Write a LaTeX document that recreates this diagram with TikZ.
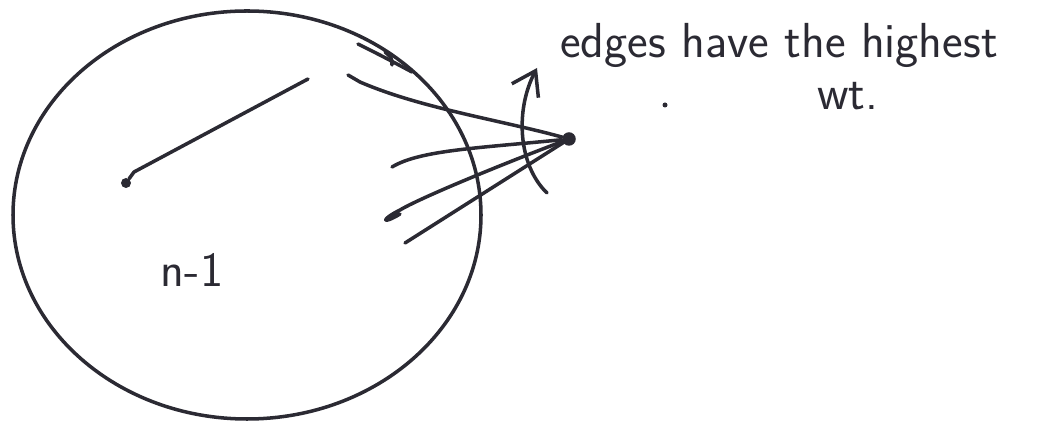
\documentclass[tikz,border=0pt]{standalone}
\usepackage{tikz}
\usetikzlibrary{arrows.meta, positioning}
\definecolor{ink}{HTML}{2B2A33}
\tikzset{
  pen/.style ={draw=ink, line width=2pt, line cap=round, line join=round},
  vtx/.style ={circle, fill=ink, inner sep=0pt, minimum size=0.27cm},
  dot/.style ={circle, fill=ink, inner sep=0pt, minimum size=0.2cm},
  hand/.style={font=\sffamily\fontsize{28}{33}\selectfont, text=ink, inner sep=0pt},
  fl/.style  ={pen, -{Straight Barb[length=4.5mm, width=6mm, line width=2pt]}},
}
\begin{document}
\begin{tikzpicture}[x={(0.02cm,0)}, y={(0,-0.02cm)}]
  \useasboundingbox (0,0) rectangle (1047,421);
  % the n-1 set
  \draw[pen] (247,215) ellipse [x radius=234, y radius=204];
  \draw[pen] (358,44) .. controls (382,56) .. (412,72);
  \draw[pen] (385,52) .. controls (392,58) .. (392,65);
  \node[hand] (set) at (192,270) {n-1};
  % inner edge
  \node[dot] (xm) at (126,183) {};
  \coordinate (xe) at (308,79);
  \draw[pen] (xm) -- (134,172) -- (xe);
  % outside vertex and its edges
  \node[vtx] (v) at (569,139) {};
  \coordinate (e1) at (348,75);
  \coordinate (e2) at (392,167);
  \coordinate (e3) at (400,214);
  \coordinate (e4) at (405,243);
  \draw[pen] (v) .. controls (500,120) and (420,108) .. (360,82) -- (e1);
  \draw[pen] (v) .. controls (480,148) and (420,150) .. (e2);
  \draw[pen] (v) .. controls (500,165) and (420,198) .. (400,210)
                 .. controls (380,220) and (382,225) .. (e3);
  \draw[pen] (v) -- (e4);
  % sweep arrow over the edges
  \coordinate (ab) at (547,193);
  \coordinate (at) at (537,68);
  \draw[fl] (ab) .. controls (518,165) and (515,110) .. (at);
  % note
  \node[hand, anchor=base] (note) at (779,58) {edges have the highest};
  \node[hand, anchor=base] (wt) at (848,110) {wt.};
  \node[dot, minimum size=0.1cm] (spec) at (665,105) {};
\end{tikzpicture}
\end{document}
